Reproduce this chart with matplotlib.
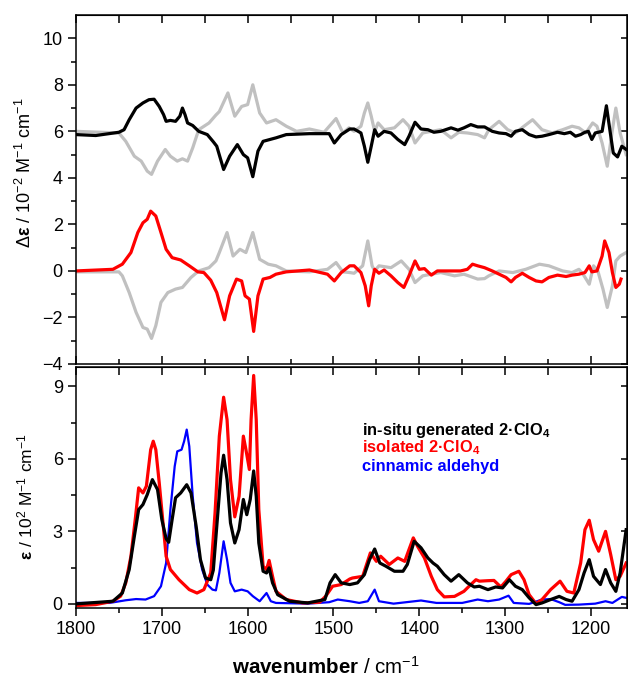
import numpy as np
import matplotlib.pyplot as plt

plt.rcParams['font.family'] = ['Liberation Sans', 'DejaVu Sans']
plt.rcParams['mathtext.fontset'] = 'custom'
plt.rcParams['mathtext.rm'] = 'Liberation Sans'
plt.rcParams['mathtext.it'] = 'Liberation Sans:italic'
plt.rcParams['mathtext.bf'] = 'Liberation Sans:bold'

# --- CD spectra (top panel), in-situ shifted by +6 ---
cd_insitu_wn = [1800, 1777, 1750, 1744, 1738, 1730, 1722, 1715, 1709, 1703, 1698, 1695, 1690, 1684,
                1679, 1676, 1673, 1670, 1664, 1657, 1647, 1640, 1636, 1628, 1621, 1612, 1605, 1600,
                1594, 1588, 1582, 1574, 1567, 1555, 1528, 1505, 1499, 1491, 1481, 1476, 1468, 1464,
                1460, 1456, 1452, 1448, 1441, 1433, 1425, 1417, 1412, 1405, 1398, 1390, 1383, 1375,
                1363, 1355, 1348, 1340, 1332, 1324, 1315, 1307, 1299, 1293, 1288, 1280, 1272, 1264,
                1257, 1249, 1239, 1231, 1224, 1218, 1212, 1207, 1203, 1199, 1195, 1187, 1182, 1178,
                1174, 1169, 1164, 1159]
cd_insitu = [5.86, 5.82, 5.96, 6.07, 6.5, 7.0, 7.22, 7.36, 7.38, 7.07, 6.72, 6.43, 6.47, 6.43,
             6.65, 7.0, 6.72, 6.36, 6.25, 6.0, 5.86, 5.55, 5.36, 4.36, 4.93, 5.43, 5.0, 4.86,
             4.05, 5.15, 5.57, 5.65, 5.72, 5.86, 5.9, 5.9, 5.5, 5.86, 6.1, 6.1, 5.93, 5.36,
             4.67, 5.36, 6.07, 5.79, 6.0, 5.93, 5.65, 5.43, 5.79, 6.39, 6.1, 6.07, 5.96, 6.0,
             6.15, 6.05, 6.15, 6.29, 6.19, 6.19, 6.0, 5.93, 5.9, 5.79, 6.0, 6.07, 5.86, 5.76,
             5.79, 5.86, 5.96, 5.9, 5.96, 5.79, 5.86, 5.96, 6.0, 5.65, 5.93, 6.0, 7.1, 6.07,
             5.07, 4.9, 5.36, 5.22]

cd_insitu_ref_wn = [1800, 1750, 1742, 1732, 1724, 1717, 1712, 1705, 1696, 1690, 1682, 1676, 1670,
                    1664, 1657, 1645, 1637, 1633, 1623, 1615, 1607, 1600, 1594, 1586, 1578, 1567,
                    1555, 1543, 1528, 1511, 1497, 1489, 1482, 1476, 1468, 1464, 1460, 1456, 1452,
                    1448, 1441, 1429, 1419, 1412, 1405, 1396, 1386, 1375, 1363, 1354, 1344, 1332,
                    1324, 1319, 1307, 1297, 1288, 1278, 1268, 1257, 1245, 1233, 1222, 1214, 1206,
                    1198, 1193, 1187, 1181, 1175, 1171, 1166, 1159]
cd_insitu_ref = [6.0, 5.93, 5.57, 4.93, 4.72, 4.29, 4.15, 4.72, 5.22, 4.93, 4.72, 4.82, 4.72,
                 5.29, 6.07, 6.36, 6.7, 6.85, 7.65, 6.65, 7.07, 7.15, 8.0, 6.79, 6.36, 6.5,
                 6.22, 6.0, 6.1, 5.96, 6.55, 5.93, 6.15, 6.0, 6.22, 6.79, 7.22, 6.65, 6.0,
                 6.36, 6.07, 6.15, 6.5, 6.22, 5.5, 5.93, 6.0, 6.07, 5.72, 5.96, 5.93, 5.86,
                 5.72, 6.07, 6.43, 6.07, 5.93, 6.22, 6.5, 6.07, 5.93, 6.07, 6.22, 6.15, 5.93,
                 6.36, 6.22, 5.5, 4.5, 6.07, 7.0, 5.93, 5.0]

cd_isolated_wn = [1800, 1757, 1746, 1736, 1728, 1722, 1717, 1713, 1707, 1701, 1695, 1688, 1678,
                  1668, 1658, 1651, 1643, 1636, 1627, 1621, 1613, 1607, 1603, 1598, 1593, 1588,
                  1582, 1574, 1567, 1555, 1528, 1507, 1499, 1491, 1481, 1476, 1468, 1463, 1459,
                  1456, 1452, 1447, 1441, 1433, 1425, 1418, 1412, 1405, 1400, 1394, 1386, 1379,
                  1367, 1352, 1344, 1338, 1332, 1324, 1315, 1307, 1299, 1293, 1288, 1280, 1272,
                  1264, 1257, 1249, 1239, 1229, 1222, 1214, 1207, 1202, 1199, 1193, 1187, 1184,
                  1179, 1175, 1171, 1167, 1165]
cd_isolated = [0.0, 0.07, 0.29, 0.79, 1.65, 2.07, 2.22, 2.57, 2.36, 1.65, 0.93, 0.57, 0.47,
               0.22, -0.04, -0.07, -0.4, -0.93, -2.1, -1.07, -0.35, -0.43, -1.07, -1.21, -2.6, -1.07,
               -0.35, -0.28, -0.14, -0.04, 0.04, -0.14, -0.43, -0.07, 0.22, 0.22, -0.07, -0.64, -1.5,
               -0.64, 0.07, -0.1, 0.04, -0.21, -0.5, -0.71, -0.21, 0.43, 0.07, 0.1, -0.18, 0.0,
               0.0, 0.0, 0.07, 0.29, 0.22, 0.14, 0.0, -0.14, -0.28, -0.47, -0.28, -0.1, -0.28,
               -0.43, -0.47, -0.28, -0.18, -0.24, -0.18, -0.14, -0.07, 0.22, -0.04, 0.0, 0.64, 1.29,
               0.79, -0.07, -0.71, -0.57, -0.35]

cd_isolated_ref_wn = [1800, 1750, 1746, 1738, 1730, 1722, 1717, 1712, 1707, 1701, 1693, 1684, 1676,
                      1666, 1657, 1645, 1637, 1633, 1624, 1617, 1609, 1602, 1594, 1586, 1576, 1567,
                      1555, 1528, 1507, 1497, 1489, 1481, 1476, 1466, 1460, 1455, 1452, 1447, 1433,
                      1421, 1412, 1405, 1396, 1386, 1375, 1359, 1348, 1332, 1324, 1319, 1307, 1291,
                      1276, 1260, 1249, 1233, 1222, 1214, 1208, 1202, 1197, 1192, 1186, 1181, 1175,
                      1171, 1166, 1159]
cd_isolated_ref = [-0.04, -0.04, -0.21, -0.93, -1.78, -2.43, -2.5, -2.9, -2.35, -1.35, -0.93, -0.78, -0.71,
                   -0.28, 0.0, 0.14, 0.43, 0.79, 1.65, 0.64, 0.93, 0.79, 1.65, 0.5, 0.29, 0.22,
                   0.0, -0.04, 0.07, 0.36, -0.04, -0.07, -0.1, 0.22, 1.29, 0.22, 0.0, 0.22, 0.14,
                   0.43, 0.07, -0.5, -0.21, -0.14, -0.07, -0.21, -0.14, -0.35, -0.33, -0.21, 0.0, -0.07,
                   0.07, 0.29, 0.22, 0.0, -0.07, 0.07, -0.21, -0.57, 0.22, 0.0, -0.78, -1.57, -0.64,
                   0.43, 0.64, 0.79]

# --- IR spectra (bottom panel) ---
ir_isolated_wn = [1800, 1777, 1757, 1748, 1742, 1736, 1731, 1727, 1722, 1718, 1713, 1710, 1707, 1703,
                  1699, 1695, 1690, 1680, 1668, 1659, 1651, 1643, 1638, 1633, 1628, 1624, 1620, 1615,
                  1610, 1605, 1602, 1598, 1596, 1593, 1590, 1587, 1582, 1578, 1575, 1571, 1567, 1555,
                  1536, 1516, 1509, 1501, 1491, 1481, 1478, 1466, 1457, 1450, 1445, 1435, 1425, 1417,
                  1412, 1407, 1402, 1394, 1386, 1379, 1371, 1359, 1348, 1340, 1334, 1330, 1320, 1313,
                  1305, 1299, 1293, 1284, 1278, 1272, 1264, 1257, 1247, 1236, 1228, 1220, 1212, 1207,
                  1202, 1197, 1191, 1183, 1177, 1171, 1166, 1159]
ir_isolated = [-0.07, -0.03, 0.11, 0.32, 0.87, 1.97, 3.49, 4.8, 4.59, 4.87, 6.38, 6.73, 6.38, 5.0,
               3.49, 1.97, 1.42, 1.0, 0.59, 0.45, 0.59, 1.28, 3.76, 6.94, 8.55, 7.62, 5.14, 3.6,
               4.45, 6.94, 6.38, 5.56, 7.62, 9.45, 7.62, 3.9, 1.56, 1.42, 1.8, 1.14, 0.52, 0.18,
               0.04, 0.07, 0.32, 0.73, 0.8, 1.03, 1.07, 1.14, 2.11, 1.76, 1.97, 1.63, 1.9, 1.76,
               2.25, 2.73, 2.38, 1.9, 1.14, 0.59, 0.29, 0.31, 0.52, 0.8, 1.0, 0.94, 0.96, 0.97,
               0.7, 0.94, 1.21, 1.35, 1.0, 0.38, 0.01, 0.18, 0.59, 0.94, 0.52, 0.45, 1.69, 3.07,
               3.46, 2.66, 2.18, 3.0, 2.04, 1.0, 1.14, 1.69]

ir_insitu_wn = [1800, 1757, 1746, 1738, 1732, 1727, 1722, 1717, 1711, 1705, 1700, 1695, 1692, 1688,
                1684, 1678, 1671, 1666, 1660, 1655, 1649, 1643, 1640, 1636, 1631, 1628, 1624, 1620,
                1615, 1610, 1605, 1601, 1597, 1593, 1590, 1587, 1582, 1578, 1575, 1571, 1565, 1551,
                1530, 1510, 1504, 1498, 1491, 1481, 1472, 1464, 1458, 1452, 1446, 1439, 1429, 1419,
                1414, 1406, 1398, 1390, 1384, 1379, 1371, 1363, 1354, 1344, 1336, 1330, 1320, 1311,
                1303, 1295, 1288, 1280, 1272, 1264, 1257, 1247, 1237, 1229, 1222, 1214, 1208, 1202,
                1197, 1189, 1183, 1177, 1171, 1166, 1159]
ir_insitu = [0.0, 0.11, 0.45, 1.42, 2.8, 3.9, 4.11, 4.52, 5.14, 4.73, 3.49, 2.7, 2.55, 3.49,
             4.39, 4.59, 4.93, 4.59, 3.21, 1.83, 1.07, 1.0, 1.4, 3.2, 5.42, 6.15, 5.14, 3.35,
             2.52, 3.07, 4.32, 3.69, 4.32, 5.5, 4.45, 2.52, 1.35, 1.28, 1.49, 0.87, 0.38, 0.11,
             0.04, 0.18, 0.87, 1.21, 0.87, 0.8, 0.87, 1.21, 1.83, 2.27, 1.69, 1.56, 1.35, 1.35,
             1.63, 2.59, 2.32, 1.9, 1.69, 1.56, 1.21, 0.94, 1.21, 0.87, 0.7, 0.73, 0.59, 0.7,
             0.66, 1.0, 0.73, 0.59, 0.25, -0.03, 0.04, 0.18, 0.31, 0.18, 0.11, 0.59, 1.28, 1.83,
             1.14, 0.8, 1.42, 0.87, 0.52, 1.28, 3.07]

ir_aldehyde_wn = [1800, 1761, 1742, 1730, 1719, 1709, 1701, 1695, 1690, 1685, 1682, 1677, 1674, 1671,
                  1668, 1664, 1659, 1653, 1647, 1641, 1637, 1633, 1628, 1624, 1620, 1615, 1607, 1600,
                  1594, 1586, 1578, 1573, 1567, 1530, 1505, 1495, 1481, 1470, 1460, 1452, 1447, 1430,
                  1398, 1380, 1350, 1332, 1320, 1307, 1296, 1290, 1272, 1257, 1247, 1237, 1230, 1214,
                  1195, 1183, 1175, 1164, 1159]
ir_aldehyde = [0.04, 0.04, 0.15, 0.2, 0.18, 0.32, 0.73, 1.69, 3.9, 5.69, 6.31, 6.38, 6.73, 7.21,
               6.52, 4.45, 2.52, 1.42, 0.8, 0.59, 0.56, 1.28, 2.59, 1.83, 0.87, 0.52, 0.59, 0.52,
               0.32, 0.11, 0.45, 0.11, 0.04, 0.01, 0.07, 0.18, 0.11, 0.04, 0.11, 0.59, 0.11, 0.01,
               0.14, 0.04, 0.04, 0.18, 0.11, 0.18, 0.34, 0.04, 0.0, 0.18, 0.2, 0.07, -0.04, -0.03,
               0.01, 0.11, 0.04, 0.29, 0.25]

labels = [r'in-situ generated 2·ClO$_\mathbf{4}$', r'isolated 2·ClO$_\mathbf{4}$', 'cinnamic aldehyd']
label_colors = ['black', 'red', 'blue']

W, H = 628, 682
fig = plt.figure(figsize=(W / 100, H / 100), dpi=100)
ax1 = fig.add_axes([76 / W, 1 - 364 / H, 551 / W, (364 - 15) / H])
ax2 = fig.add_axes([76 / W, 1 - 608 / H, 551 / W, (608 - 367) / H])

gray = '#c0c0c0'
ax1.plot(cd_insitu_ref_wn, cd_insitu_ref, color=gray, lw=2.3)
ax1.plot(cd_isolated_ref_wn, cd_isolated_ref, color=gray, lw=2.3)
ax1.plot(cd_insitu_wn, cd_insitu, color='black', lw=2.3)
ax1.plot(cd_isolated_wn, cd_isolated, color='red', lw=2.3)

ax2.plot(ir_aldehyde_wn, ir_aldehyde, color='blue', lw=1.6)
ax2.plot(ir_isolated_wn, ir_isolated, color='red', lw=2.3)
ax2.plot(ir_insitu_wn, ir_insitu, color='black', lw=2.3)

ax1.set_ylim(-4, 11)
ax1.set_yticks(np.arange(-4, 11, 2))
ax1.set_yticks(np.arange(-4, 11, 1), minor=True)
ax2.set_ylim(-0.17, 9.8)
ax2.set_yticks([0, 3, 6, 9])
ax2.set_yticks(np.arange(0, 9.8, 1.5), minor=True)

for ax in (ax1, ax2):
    ax.set_xlim(1800, 1158)
    ax.set_xticks(np.arange(1800, 1150, -100))
    ax.set_xticks(np.arange(1800, 1150, -50), minor=True)
    for s in ax.spines.values():
        s.set_linewidth(1.1)
    ax.tick_params(axis='y', which='major', direction='out', length=6, width=1.1, labelsize=13)
    ax.tick_params(axis='y', which='minor', direction='out', length=3.5, width=1.1)
    ax.tick_params(axis='x', which='major', length=6, width=1.1, labelsize=13)
    ax.tick_params(axis='x', which='minor', length=3.5, width=1.1)
    sy = ax.secondary_yaxis('right')
    sy.set_yticks(ax.get_yticks())
    sy.tick_params(direction='in', length=4, width=1.1, labelright=False)
    sx = ax.secondary_xaxis('top')
    sx.set_xticks(np.arange(1800, 1150, -100))
    sx.set_xticks(np.arange(1800, 1150, -50), minor=True)
    sx.tick_params(which='both', direction='in', length=6, width=1.1, labeltop=False)

ax1.tick_params(axis='x', which='both', direction='in', labelbottom=False)
ax2.tick_params(axis='x', which='both', direction='out')

ax1.set_ylabel(r'$\Delta\mathbf{\varepsilon}$ / 10$^{-2}$ M$^{-1}$ cm$^{-1}$', fontsize=13)
ax1.yaxis.set_label_coords(-0.074, 0.549)
ax2.set_ylabel(r'$\mathbf{\varepsilon}$ / 10$^{2}$ M$^{-1}$ cm$^{-1}$', fontsize=12.5)
ax2.yaxis.set_label_coords(-0.074, 0.463)
ax2.set_xlabel(r'$\mathbf{wavenumber}$ / cm$^{-1}$', fontsize=14.8, labelpad=14)
ax2.xaxis.set_label_coords(0.454, -0.2)

for i, (txt, col) in enumerate(zip(labels, label_colors)):
    ax2.text(0.5185, 0.718 - i * 0.074, txt, color=col, fontsize=11.8, fontweight='bold',
             transform=ax2.transAxes, va='baseline')

fig.savefig('out.png', dpi=100)
